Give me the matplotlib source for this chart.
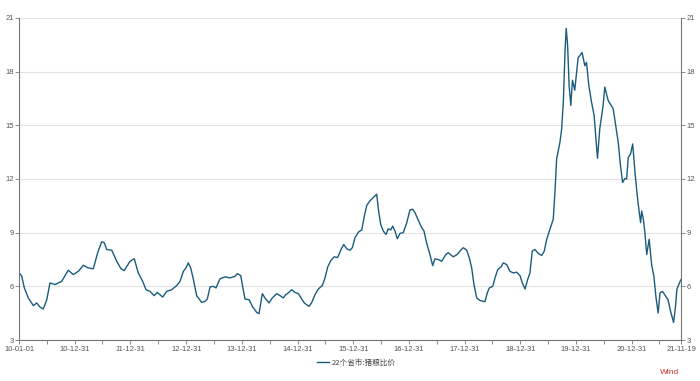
import matplotlib
matplotlib.use("Agg")
import matplotlib.pyplot as plt
import matplotlib.dates as mdates
import pandas as pd

dates = [
    "2010-01-01", "2010-01-17", "2010-02-03", "2010-03-01", "2010-04-03", "2010-04-25", "2010-05-17",
    "2010-06-07", "2010-06-30", "2010-07-21", "2010-08-23", "2010-10-06", "2010-11-18", "2010-12-21",
    "2011-01-23", "2011-02-25", "2011-03-29", "2011-05-01", "2011-05-30", "2011-06-25", "2011-07-12",
    "2011-07-28", "2011-08-30", "2011-10-02", "2011-10-30", "2011-11-20", "2011-12-28",
    "2012-01-25", "2012-02-20", "2012-03-20", "2012-04-11", "2012-05-07", "2012-06-03", "2012-06-24",
    "2012-07-29", "2012-08-25", "2012-09-26", "2012-10-29", "2012-11-20", "2012-12-12", "2012-12-29",
    "2013-01-13", "2013-01-29", "2013-02-15", "2013-03-09", "2013-03-26", "2013-04-11", "2013-05-03",
    "2013-05-18", "2013-06-05", "2013-06-26", "2013-07-14", "2013-08-09", "2013-09-11", "2013-10-14",
    "2013-11-16", "2013-12-01", "2013-12-23",
    "2014-01-20", "2014-02-17", "2014-03-09", "2014-04-07", "2014-04-22", "2014-05-14", "2014-05-31",
    "2014-06-27", "2014-07-18", "2014-08-16", "2014-09-07", "2014-09-28", "2014-10-14", "2014-10-31",
    "2014-11-22", "2014-12-14",
    "2015-01-05", "2015-01-23", "2015-02-13", "2015-03-16", "2015-04-03", "2015-04-24", "2015-05-16",
    "2015-06-11", "2015-06-29", "2015-07-17", "2015-08-07", "2015-08-29", "2015-09-20", "2015-10-12",
    "2015-10-30", "2015-11-18", "2015-12-10", "2015-12-25",
    "2016-01-12", "2016-02-03", "2016-02-25", "2016-03-13", "2016-03-29", "2016-04-19", "2016-05-11",
    "2016-06-02", "2016-06-13", "2016-06-28", "2016-07-15", "2016-08-02", "2016-08-17", "2016-09-02",
    "2016-09-15", "2016-09-30", "2016-10-15", "2016-11-02", "2016-11-23", "2016-12-15",
    "2017-01-06", "2017-01-24", "2017-02-08", "2017-03-01", "2017-03-24", "2017-04-08", "2017-04-25",
    "2017-05-17", "2017-06-04", "2017-06-19", "2017-07-11", "2017-08-02", "2017-08-30", "2017-09-14",
    "2017-10-17", "2017-11-12", "2017-12-05", "2017-12-22",
    "2018-01-13", "2018-01-30", "2018-02-15", "2018-03-02", "2018-03-20", "2018-04-10", "2018-05-13",
    "2018-05-28", "2018-06-11", "2018-07-03", "2018-07-18", "2018-08-05", "2018-08-27", "2018-09-10",
    "2018-10-02", "2018-10-24", "2018-11-15", "2018-12-07", "2018-12-29",
    "2019-01-13", "2019-01-31", "2019-02-17", "2019-03-04", "2019-03-19", "2019-04-06", "2019-04-28",
    "2019-05-20", "2019-06-06", "2019-06-22", "2019-07-13", "2019-08-04", "2019-08-15", "2019-08-26",
    "2019-09-17", "2019-09-28", "2019-10-09", "2019-10-20", "2019-10-28", "2019-11-06", "2019-11-16",
    "2019-11-27", "2019-12-08", "2019-12-23",
    "2020-01-14", "2020-02-09", "2020-02-27", "2020-03-09", "2020-03-24", "2020-04-11", "2020-04-28",
    "2020-05-20", "2020-06-04", "2020-06-26", "2020-07-07", "2020-07-29", "2020-08-31", "2020-09-22",
    "2020-10-03", "2020-10-18", "2020-11-01", "2020-11-16", "2020-11-27", "2020-12-08", "2020-12-23",
    "2021-01-06", "2021-01-21", "2021-02-05", "2021-02-18", "2021-02-27", "2021-03-06", "2021-03-17",
    "2021-03-28", "2021-04-08", "2021-04-24", "2021-05-10", "2021-05-25", "2021-06-07", "2021-06-22",
    "2021-07-04", "2021-07-20", "2021-08-04", "2021-08-26", "2021-09-09", "2021-10-01", "2021-10-14",
    "2021-10-23", "2021-11-13", "2021-11-19",
]

ratio = [
    6.75, 6.56, 5.91, 5.35, 4.92, 5.07, 4.84,
    4.73, 5.25, 6.19, 6.10, 6.28, 6.90, 6.66,
    6.84, 7.18, 7.03, 6.98, 7.88, 8.49, 8.44,
    8.06, 8.02, 7.40, 6.98, 6.88, 7.40,
    7.54, 6.75, 6.28, 5.81, 5.72, 5.48, 5.66,
    5.40, 5.72, 5.81, 6.04, 6.28, 6.84, 7.03,
    7.31, 7.03, 6.42, 5.48, 5.29, 5.10, 5.16,
    5.29, 5.97, 6.00, 5.91, 6.42, 6.53, 6.47,
    6.56, 6.71, 6.60,
    5.29, 5.25, 4.88, 4.54, 4.47, 5.59, 5.35,
    5.07, 5.35, 5.59, 5.48, 5.35, 5.53, 5.63,
    5.81, 5.66,
    5.59, 5.35, 5.07, 4.88, 5.10, 5.53, 5.85,
    6.04, 6.47, 7.09, 7.46, 7.65, 7.61, 8.06,
    8.34, 8.10, 8.02, 8.16,
    8.72, 9.03, 9.15, 9.93, 10.53, 10.78, 10.97,
    11.15, 10.31, 9.47, 9.09, 8.90, 9.22, 9.15,
    9.37, 9.09, 8.66, 8.96, 9.00, 9.52,
    10.27, 10.31, 10.12, 9.71, 9.28, 9.09, 8.44,
    7.78, 7.16, 7.54, 7.50, 7.40, 7.78, 7.88,
    7.65, 7.78, 8.02, 8.16,
    8.02, 7.60, 7.03, 6.10, 5.35, 5.21, 5.14,
    5.63, 5.91, 6.00, 6.47, 6.94, 7.09, 7.31,
    7.22, 6.84, 6.75, 6.79, 6.60,
    6.19, 5.85, 6.38, 6.75, 7.97, 8.06, 7.84,
    7.72, 7.97, 8.63, 9.19, 9.75, 11.25, 13.12,
    14.06, 14.80, 16.30, 19.11, 20.42, 19.48, 17.24,
    16.11, 17.52, 16.96,
    18.78, 19.07, 18.33, 18.52, 17.24, 16.30, 15.55,
    13.16, 14.80, 16.11, 17.14, 16.39, 15.93, 14.70,
    14.06, 12.74, 11.81, 12.03, 12.00, 13.21, 13.40,
    13.96, 12.37, 11.06, 10.12, 9.56, 10.21, 9.75,
    8.90, 7.78, 8.63, 7.22, 6.56, 5.44, 4.51,
    5.63, 5.72, 5.53, 5.25, 4.69, 3.98, 4.88,
    5.85, 6.28, 6.38,
]

xtick_dates = ["2010-01-01", "2010-12-31", "2011-12-31", "2012-12-31", "2013-12-31", "2014-12-31",
               "2015-12-31", "2016-12-31", "2017-12-31", "2018-12-31", "2019-12-31", "2020-12-31",
               "2021-11-19"]
xtick_labels = ["10-01-01", "10-12-31", "11-12-31", "12-12-31", "13-12-31", "14-12-31",
                "15-12-31", "16-12-31", "17-12-31", "18-12-31", "19-12-31", "20-12-31",
                "21-11-19"]
minor_dates = ["2010-06-30", "2011-06-30", "2012-06-30", "2013-06-30", "2014-06-30", "2015-06-30",
               "2016-06-30", "2017-06-30", "2018-06-30", "2019-06-30", "2020-06-30", "2021-06-30"]
yticks = [3, 6, 9, 12, 15, 18, 21]
series_name = "22个省市:猪粮比价"

plt.rcParams['font.family'] = ['Liberation Sans', 'Noto Sans CJK SC', 'DejaVu Sans']

fig = plt.figure(figsize=(7.0, 3.81), dpi=100)
ax = fig.add_axes([0.0276, 0.1076, 0.9453, 0.8452])

x = pd.to_datetime(dates)
line_color = "#1b5c7c"
ax.plot(x, ratio, color=line_color, lw=1.0, label=series_name)

ax.set_xlim(pd.Timestamp("2010-01-01"), pd.Timestamp("2021-11-19"))
ax.set_ylim(3, 21)
ax.set_yticks(yticks)
ax.set_yticklabels([str(v) for v in yticks])
ax.set_xticks(pd.to_datetime(xtick_dates))
ax.set_xticklabels(xtick_labels)
ax.set_xticks(pd.to_datetime(minor_dates), minor=True)

ax.grid(axis='y', color="#e3e3e3", lw=0.8)
ax.set_axisbelow(True)

axis_col = "#777777"
for s in ["left", "right", "bottom"]:
    ax.spines[s].set_color(axis_col)
    ax.spines[s].set_linewidth(0.8)
ax.spines["top"].set_visible(False)

ax.tick_params(axis='y', which='both', left=True, right=True, labelleft=True, labelright=True,
               direction='out', length=3, width=0.6, color=axis_col, labelsize=5.5,
               labelcolor="#555555", pad=1)
ax.tick_params(axis='x', which='both', direction='out', length=3, width=0.6, color=axis_col,
               labelsize=5.5, labelcolor="#555555", pad=1.5)

leg = ax.legend(loc='center', bbox_to_anchor=(0.509, 0.047), bbox_transform=fig.transFigure,
                frameon=False, fontsize=5.5, handlelength=1.6, handletextpad=0.4,
                prop={'family': ['Noto Sans CJK SC', 'DejaVu Sans'], 'size': 5.5})
for t in leg.get_texts():
    t.set_color("#444444")

fig.text(0.957, 0.021, "Wind", color="#cc3333", fontsize=6, ha='center', va='center')

fig.savefig("out.png", dpi=100)
